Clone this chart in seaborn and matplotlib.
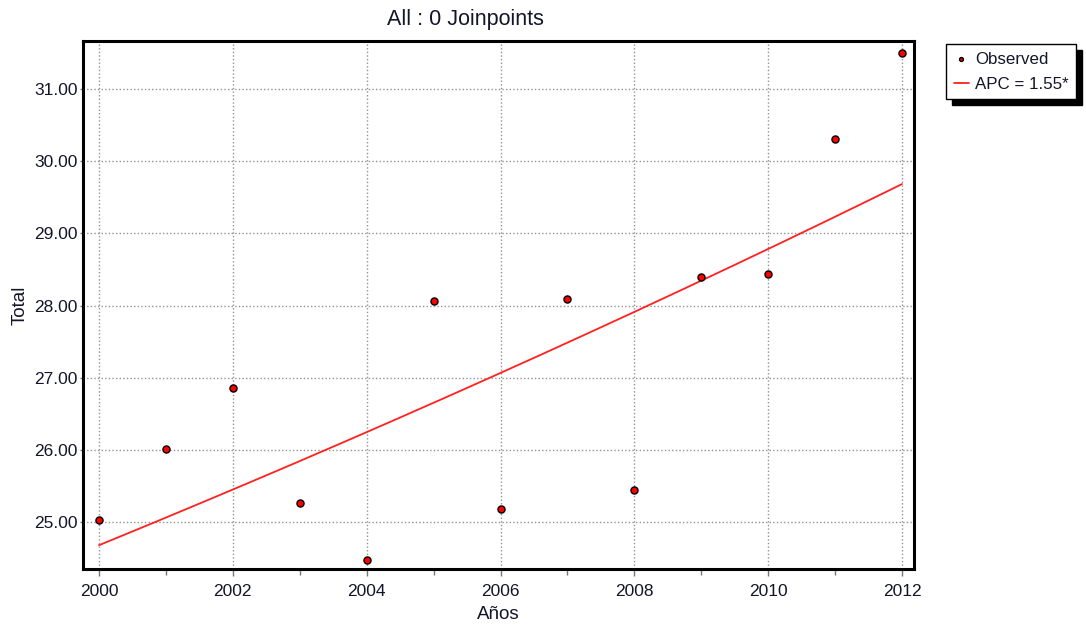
import numpy as np
import pandas as pd
import matplotlib
matplotlib.use("Agg")
import matplotlib.pyplot as plt
import seaborn as sns
from matplotlib.ticker import MultipleLocator

# Observed yearly totals
years = [2000, 2001, 2002, 2003, 2004, 2005, 2006, 2007, 2008, 2009, 2010, 2011, 2012]
totals = [25.03, 26.01, 26.86, 25.26, 24.47, 28.06, 25.18, 28.09, 25.44, 28.40, 28.44, 30.31, 31.50]

# Log-linear model with zero joinpoints
apc = 1.55          # annual percent change
fit_start = 24.68   # modelled value in the first year

title = "All : 0 Joinpoints"
x_label = "Años"
y_label = "Total"
legend_observed = "Observed"
legend_fit = f"APC = {apc:.2f}*"

sns.set_theme(style="white")
plt.rcParams["font.family"] = ["Liberation Sans", "DejaVu Sans"]

obs = pd.DataFrame({"year": years, "total": totals})
fit_years = np.linspace(years[0], years[-1], 200)
fit = pd.DataFrame({
    "year": fit_years,
    "total": fit_start * (1 + apc / 100) ** (fit_years - years[0]),
})

fig = plt.figure(figsize=(10.86, 6.28), dpi=100)
ax = fig.add_axes([83 / 1086, 1 - 569 / 628, (914 - 83) / 1086, (569 - 41) / 628])

text_color = "#15152a"

sns.lineplot(data=fit, x="year", y="total", ax=ax, color="#ff2020", linewidth=1.3,
             label=legend_fit, zorder=2)
sns.scatterplot(data=obs, x="year", y="total", ax=ax, color="#ff0000", edgecolor="black",
                linewidth=1.0, s=26, label=legend_observed, zorder=3)

ax.set_xlim(1999.76, 2012.18)
ax.set_ylim(24.35, 31.665)
ax.xaxis.set_major_locator(MultipleLocator(2))
ax.xaxis.set_minor_locator(MultipleLocator(1))
ax.yaxis.set_major_locator(MultipleLocator(1))
ax.yaxis.set_major_formatter(matplotlib.ticker.FormatStrFormatter("%.2f"))

ax.grid(True, which="major", linestyle=(0, (1, 1.6)), color="#929292", linewidth=1.0)
ax.set_axisbelow(True)

for side in ax.spines.values():
    side.set_color("black")
    side.set_linewidth(2.2)

ax.tick_params(axis="x", which="major", direction="out", length=5, width=1,
               color="#777777", labelsize=12.5, labelcolor=text_color, pad=6, bottom=True)
ax.tick_params(axis="x", which="minor", direction="out", length=4, width=1,
               color="#777777", bottom=True)
ax.tick_params(axis="y", which="major", direction="out", length=2, width=1,
               color="#777777", labelsize=12.5, labelcolor=text_color, pad=2, left=True)

ax.set_xlabel(x_label, fontsize=13.5, color=text_color, labelpad=5)
ax.set_ylabel(y_label, fontsize=13.5, color=text_color, labelpad=4)

fig.text(465 / 1086, 1 - 19 / 628, title, ha="center", va="center",
         fontsize=15.5, color=text_color)

handles, labels = ax.get_legend_handles_labels()
order = [labels.index(legend_observed), labels.index(legend_fit)]
ax.legend([handles[i] for i in order], [labels[i] for i in order],
          loc="upper left", bbox_to_anchor=(946 / 1086, 1 - 44 / 628),
          bbox_transform=fig.transFigure, frameon=True, fancybox=False,
          shadow={"color": "black", "alpha": 1.0, "ox": 4, "oy": -4},
          edgecolor="black", fontsize=12.2, handlelength=0.9, handletextpad=0.35,
          borderpad=0.45, borderaxespad=0, labelspacing=0.6, markerscale=0.55,
          framealpha=1)
leg = ax.get_legend()
leg.get_frame().set_linewidth(1.0)
for t in leg.get_texts():
    t.set_color(text_color)

fig.savefig("out.png", dpi=100)
